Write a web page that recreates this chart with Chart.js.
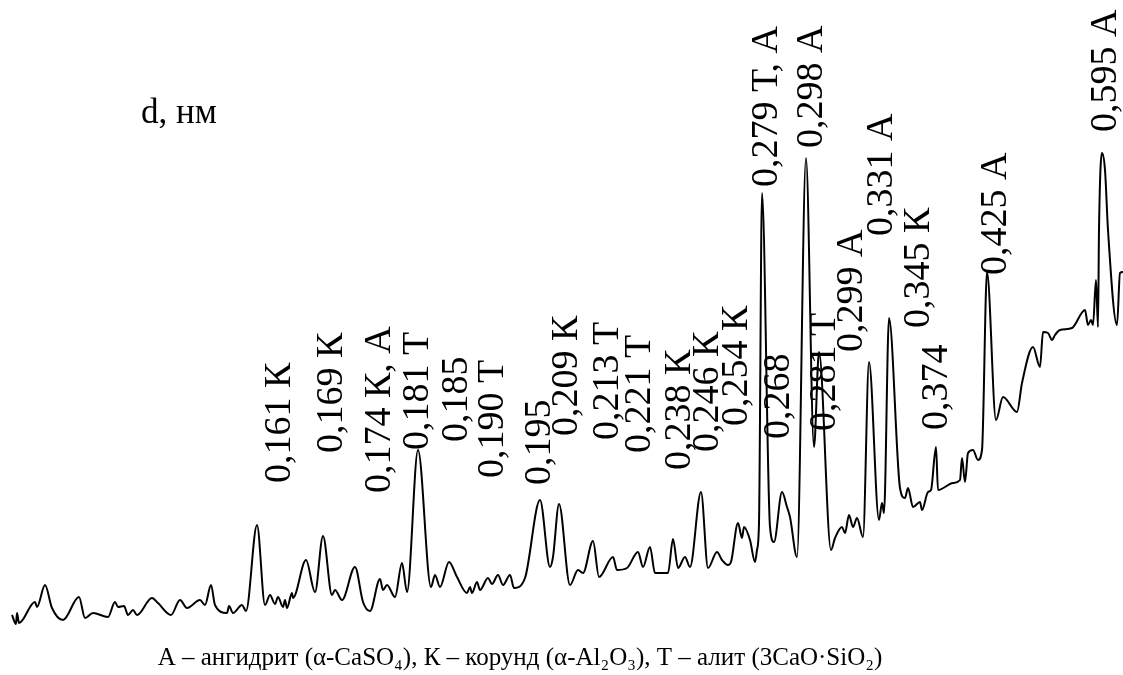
<!DOCTYPE html>
<html>
<head>
<meta charset="utf-8">
<script src="https://cdn.jsdelivr.net/npm/chart.js@4/dist/chart.umd.min.js"></script>
<style>
  html, body { margin: 0; padding: 0; background: #fff; }
  #wrap { width: 1123px; height: 675px; position: relative; }
</style>
</head>
<body>
<div id="wrap"><canvas id="xrd"></canvas></div>
<script>
// scan position (arbitrary units, left to right)
const scanPos = [
  12, 16, 17, 19, 35, 37, 45, 52, 63, 79, 85, 93, 108, 115, 118, 124, 128, 133, 137, 152,
  158, 171, 180, 187, 200, 205, 211, 215, 227, 229, 233, 242, 246, 257, 265, 270, 275, 278, 283, 285,
  287, 292, 293, 306, 315, 323, 332, 335, 342, 355, 363, 370, 380, 383, 387, 395, 402, 407, 418, 431,
  435, 440, 449, 457, 467, 470, 472, 477, 480, 488, 492, 498, 503, 510, 514, 525, 540, 550, 553, 559,
  570, 578, 583, 593, 599, 613, 617, 627, 638, 643, 650, 655, 668, 673, 678, 685, 690, 701, 708, 717,
  722, 728, 731, 738, 742, 744, 750, 755, 757, 759, 762, 770, 774, 782, 787, 790, 797, 806, 814, 819,
  831, 835, 842, 845, 849, 853, 857, 863, 869, 879, 882, 884, 889, 900, 905, 908, 913, 920, 922, 928,
  931, 936, 938, 953, 960, 962, 965, 968, 973, 978, 982, 987, 996, 1003, 1017, 1022, 1033, 1040, 1043, 1048,
  1052, 1055, 1060, 1072, 1085, 1088, 1091, 1093, 1096, 1098, 1099, 1102, 1105, 1108, 1117, 1120, 1123
]

// intensity (arbitrary units)
const intensity = [
  60, 51, 62, 52, 73, 68, 90, 67, 55, 78, 57, 62, 58, 73, 68, 69, 60, 65, 60, 77,
  72, 60, 75, 67, 75, 70, 90, 70, 62, 69, 62, 70, 64, 150, 70, 80, 71, 78, 68, 75,
  67, 82, 77, 115, 83, 139, 80, 85, 75, 108, 73, 64, 96, 85, 90, 78, 112, 83, 225, 88,
  100, 88, 113, 98, 82, 88, 82, 93, 85, 97, 91, 100, 90, 100, 87, 97, 175, 108, 118, 171,
  90, 105, 102, 134, 98, 118, 105, 107, 123, 108, 128, 102, 102, 136, 107, 118, 108, 183, 107, 123,
  115, 110, 113, 152, 137, 148, 135, 113, 125, 152, 482, 148, 133, 183, 168, 158, 118, 517, 228, 323,
  125, 137, 148, 142, 160, 148, 157, 138, 313, 155, 172, 162, 357, 187, 177, 187, 168, 173, 165, 183,
  185, 228, 185, 192, 195, 217, 193, 222, 225, 215, 225, 403, 255, 278, 263, 292, 328, 308, 343, 342,
  335, 340, 345, 347, 365, 350, 355, 350, 395, 348, 445, 522, 505, 445, 350, 402, 403
]

// peak labels: d-spacing and phase
const peakLabels = [
  '0,161 К', '0,169 К', '0,174 К, А', '0,181 Т', '0,185', '0,190 Т', '0,195', '0,209 К',
  '0,213 Т', '0,221 Т', '0,238 К', '0,246 К', '0,254 К', '0,268', '0,279 Т, А', '0,281 Т',
  '0,298 А', '0,299 А', '0,331 А', '0,345 К', '0,374', '0,425 А', '0,595 А'
]
const peakLabelPos = [
  280, 332, 380, 418, 457, 493, 540, 567,
  608, 640, 680, 708, 737, 779, 767, 825,
  812, 852, 882, 919, 937, 996, 1106
]
const peakLabelLevel = [
  192, 222, 182, 225, 233, 197, 190, 239,
  235, 222, 205, 223, 249, 236, 488, 244,
  527, 323, 439, 347, 245, 400, 543
]

const axisTitle = 'd, нм'
const caption = 'А – ангидрит (α-CaSO₄), К – корунд (α-Al₂O₃), Т – алит (3CaO·SiO₂)'

const textPlugin = {
  id: 'xrdText',
  afterDatasetsDraw(chart) {
    const ctx = chart.ctx
    const xs = chart.scales.x
    const ys = chart.scales.y
    ctx.save()
    ctx.fillStyle = '#000'

    // rotated peak labels
    ctx.font = '38px "Liberation Serif", "Times New Roman", serif'
    ctx.textAlign = 'left'
    ctx.textBaseline = 'middle'
    peakLabels.forEach((txt, i) => {
      ctx.save()
      ctx.translate(xs.getPixelForValue(peakLabelPos[i]), ys.getPixelForValue(peakLabelLevel[i]))
      ctx.rotate(-Math.PI / 2)
      ctx.fillText(txt, 0, 0)
      ctx.restore()
    })

    ctx.textBaseline = 'alphabetic'
    ctx.font = '35px "Liberation Serif", "Times New Roman", serif'
    ctx.fillText(axisTitle, 141, 123)

    ctx.textAlign = 'center'
    ctx.font = '25px "Liberation Serif", "Times New Roman", serif'
    ctx.fillText(caption, 520, 665)
    ctx.restore()
  }
}

new Chart(document.getElementById('xrd'), {
  type: 'line',
  data: {
    datasets: [{
      data: scanPos.map((x, i) => ({ x: x, y: intensity[i] })),
      borderColor: '#000',
      borderWidth: 2,
      pointRadius: 0,
      fill: false,
      cubicInterpolationMode: 'monotone'
    }]
  },
  options: {
    responsive: true,
    maintainAspectRatio: false,
    animation: false,
    layout: { padding: 0 },
    plugins: {
      legend: { display: false },
      tooltip: { enabled: false }
    },
    scales: {
      x: { type: 'linear', min: 0, max: 1123, display: false },
      y: { min: 0, max: 675, display: false }
    }
  },
  plugins: [textPlugin]
})
</script>
</body>
</html>
